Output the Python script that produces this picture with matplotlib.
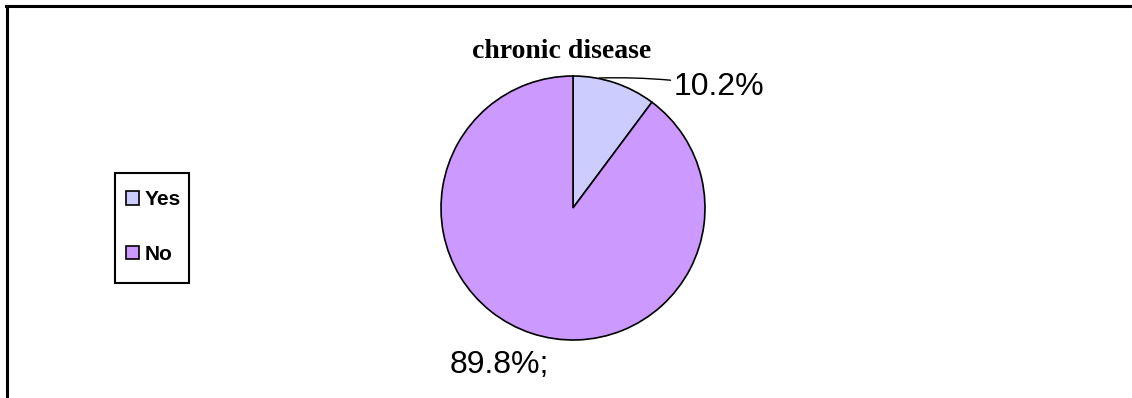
import matplotlib
matplotlib.use("Agg")
import matplotlib.pyplot as plt
from matplotlib.lines import Line2D
from matplotlib.patches import Rectangle

W, H = 1132, 398

labels = ["Yes", "No"]
shares = [10.2, 89.8]
colors = ["#CCCCFF", "#CC99FF"]
label_text = ["10.2%", "89.8%;"]

fig = plt.figure(figsize=(W / 100, H / 100), dpi=100)

# chart frame (only top and left edges fall inside the picture)
fig.add_artist(Line2D([6 / W, 1.0], [1 - 6 / H, 1 - 6 / H], color="black", lw=2.2))
fig.add_artist(Line2D([7 / W, 7 / W], [0.0, 1 - 6 / H], color="black", lw=2.2))

# pie: centre (573, 208), radius 132 px
cx, cy, r = 573, 208, 132
ax = fig.add_axes([(cx - r) / W, (H - cy - r) / H, 2 * r / W, 2 * r / H])
wedges, _ = ax.pie(shares, colors=colors, startangle=90, counterclock=False,
                   radius=1.0,
                   wedgeprops=dict(edgecolor="black", linewidth=1.2))
ax.set_xlim(-1, 1)
ax.set_ylim(-1, 1)
ax.set_aspect("equal")
ax.axis("off")

# data labels
ax.annotate(label_text[0], xy=(0.2, 0.985), xytext=(0.76, 0.92),
            ha="left", va="center", fontsize=23, family="Liberation Sans",
            annotation_clip=False,
            arrowprops=dict(arrowstyle="-", color="black", lw=1.0,
                            shrinkA=0, shrinkB=0,
                            connectionstyle="arc3,rad=0.05"))
ax.text(-0.56, -1.19, label_text[1], ha="center", va="center", fontsize=23,
        family="Liberation Sans", clip_on=False)

fig.text(562 / W, 1 - 51 / H, "chronic disease", ha="center", va="center",
         fontsize=20, fontweight="bold", family="Liberation Serif")

# legend box and entries
fig.add_artist(Rectangle((115 / W, 1 - 283 / H), 74 / W, 110 / H,
                         transform=fig.transFigure, facecolor="white",
                         edgecolor="black", lw=1.5))
leg = fig.legend(wedges, labels, loc="center left",
                 bbox_to_anchor=(126 / W, 1 - 227 / H),
                 prop=dict(family="Liberation Sans", weight="bold", size=15),
                 handlelength=0.62, handleheight=0.62, handletextpad=0.25,
                 labelspacing=1.72, borderpad=0, borderaxespad=0,
                 frameon=False)

fig.savefig("out.png", dpi=100)
